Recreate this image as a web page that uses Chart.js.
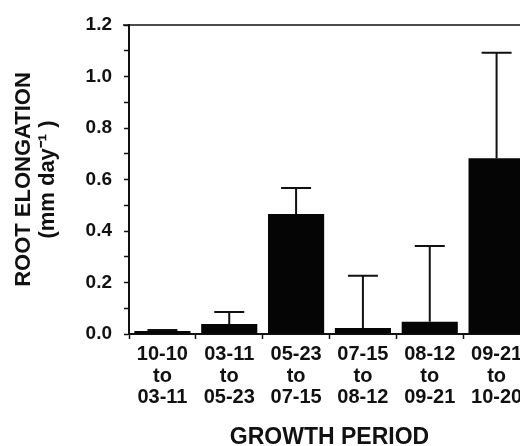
<!DOCTYPE html>
<html>
<head>
<meta charset="utf-8">
<script src="https://cdn.jsdelivr.net/npm/chart.js@4"></script>
<style>
  html, body { margin: 0; padding: 0; background: #fff; overflow: hidden; }
  #wrap { width: 540px; height: 446px; }
</style>
</head>
<body>
<div id="wrap"><canvas id="c" width="540" height="446"></canvas></div>
<script>
// ---- data ----
const periodStart = ['10-10', '03-11', '05-23', '07-15', '08-12', '09-21'];
const periodEnd   = ['03-11', '05-23', '07-15', '08-12', '09-21', '10-20'];
const elongation  = [0.012, 0.039, 0.466, 0.023, 0.048, 0.683];
const errorUpper  = [0.004, 0.046, 0.101, 0.203, 0.294, 0.409];
const yTickLabels = ['0.0', '0.2', '0.4', '0.6', '0.8', '1.0', '1.2'];

const categories = periodStart.map((s, i) => [s, 'to', periodEnd[i]]);

const FONT = '"Liberation Sans", Arial, Helvetica, sans-serif';
const INK = '#111';

const errorBars = {
  id: 'errorBars',
  afterDatasetsDraw(chart) {
    const ctx = chart.ctx;
    const meta = chart.getDatasetMeta(0);
    const y = chart.scales.y;
    ctx.save();
    ctx.strokeStyle = INK;
    ctx.lineWidth = 2;
    meta.data.forEach((bar, i) => {
      const v = elongation[i];
      const e = errorUpper[i];
      const yb = y.getPixelForValue(v);
      const yt = y.getPixelForValue(v + e);
      const x = bar.x;
      ctx.beginPath();
      ctx.moveTo(x, yb);
      ctx.lineTo(x, yt);
      ctx.moveTo(x - 15, yt);
      ctx.lineTo(x + 15, yt);
      ctx.stroke();
    });
    ctx.restore();
  }
};

const topLine = {
  id: 'topLine',
  afterDraw(chart) {
    const ctx = chart.ctx;
    const a = chart.chartArea;
    ctx.save();
    ctx.strokeStyle = INK;
    ctx.lineWidth = 1.5;
    ctx.beginPath();
    ctx.moveTo(a.left - 6, a.top);
    ctx.lineTo(chart.width, a.top);
    ctx.stroke();
    ctx.restore();
  }
};

new Chart(document.getElementById('c'), {
  type: 'bar',
  data: {
    labels: categories,
    datasets: [{
      data: elongation,
      backgroundColor: '#050505',
      borderWidth: 0,
      barPercentage: 0.84,
      categoryPercentage: 1.0
    }]
  },
  options: {
    responsive: false,
    animation: false,
    devicePixelRatio: 1,
    layout: { padding: { top: 25, right: 10, left: 0, bottom: 0 } },
    plugins: { legend: { display: false }, tooltip: { enabled: false } },
    scales: {
      x: {
        afterFit(s) { s.height = 112; },
        grid: { drawOnChartArea: false, tickLength: 5, tickColor: INK, tickWidth: 1.5, offset: true },
        border: { display: true, color: INK, width: 2 },
        ticks: {
          color: INK,
          padding: 5,
          maxRotation: 0,
          autoSkip: false,
          font: { family: FONT, size: 20, weight: 'bold', lineHeight: 1.075 }
        },
        title: {
          display: true,
          text: 'GROWTH PERIOD',
          color: INK,
          padding: { top: 0, bottom: 0 },
          font: { family: FONT, size: 23, weight: 'bold', lineHeight: 0.7 }
        }
      },
      y: {
        min: 0,
        max: 1.2,
        afterFit(s) { s.width = 129; },
        grid: { drawOnChartArea: false, tickLength: 5, tickColor: INK, tickWidth: 1.5 },
        border: { display: true, color: INK, width: 2 },
        ticks: {
          stepSize: 0.1,
          color: INK,
          padding: 12,
          autoSkip: false,
          font: { family: FONT, size: 19, weight: 'bold' },
          callback: (value, index) => (index % 2 === 0 ? yTickLabels[index / 2] : '')
        },
        title: {
          display: true,
          text: ['ROOT ELONGATION', '(mm day\u207B\u00B9 )'],
          color: INK,
          padding: { top: 12, bottom: 0 },
          font: { family: FONT, size: 22, weight: 'bold', lineHeight: 1.09 }
        }
      }
    }
  },
  plugins: [errorBars, topLine]
});
</script>
</body>
</html>
